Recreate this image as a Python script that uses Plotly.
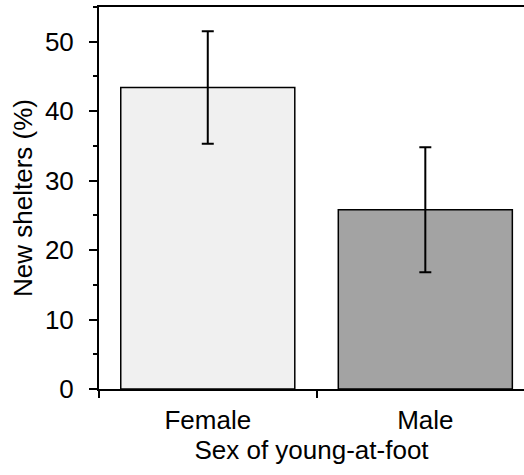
import plotly.graph_objects as go

# Proportion of new shelters by sex of young-at-foot
categories = ["Female", "Male"]
means = [43.4, 25.8]
err_plus = [8.1, 9.0]
err_minus = [8.1, 9.0]
fill_colors = ["#f0f0f0", "#a3a3a3"]

y_ticks = [0, 10, 20, 30, 40, 50]

font_family = "Liberation Sans, Arial, sans-serif"

fig = go.Figure(
    go.Bar(
        x=categories,
        y=means,
        width=0.8,
        marker=dict(color=fill_colors, line=dict(color="black", width=1.5)),
        error_y=dict(
            type="data",
            symmetric=False,
            array=err_plus,
            arrayminus=err_minus,
            color="black",
            thickness=2,
            width=6,
        ),
    )
)

fig.update_layout(
    width=524,
    height=475,
    margin=dict(l=99, r=0, t=7, b=86),
    paper_bgcolor="white",
    plot_bgcolor="white",
    font=dict(family=font_family, size=26, color="black"),
    showlegend=False,
    bargap=0.2,
)

fig.update_xaxes(
    type="category",
    range=[-0.5, 1.4536],
    tickson="boundaries",
    ticks="outside",
    ticklen=7,
    tickwidth=2,
    tickcolor="black",
    ticklabelstandoff=7,
    showline=True,
    linecolor="black",
    linewidth=2,
    mirror=True,
    showgrid=False,
    tickfont=dict(size=26),
    title=dict(text="Sex of young-at-foot", font=dict(size=26), standoff=6),
)

fig.update_yaxes(
    range=[0, 55],
    tickvals=y_ticks,
    ticks="outside",
    ticklen=8,
    tickwidth=2,
    tickcolor="black",
    ticklabelstandoff=10,
    minor=dict(dtick=5, ticks="outside", ticklen=4, tickwidth=2, tickcolor="black"),
    showline=True,
    linecolor="black",
    linewidth=2,
    showgrid=False,
    zeroline=False,
    tickfont=dict(size=26),
    title=dict(text="New shelters (%)", font=dict(size=26), standoff=5),
)

fig.write_html("out.html")
